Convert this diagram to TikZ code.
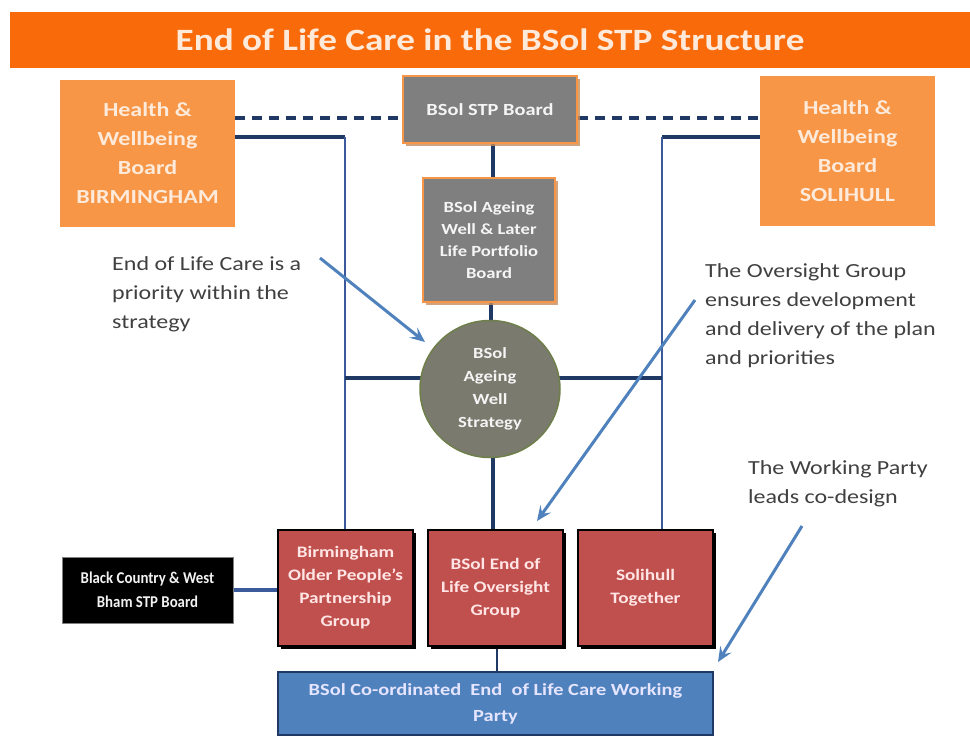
\documentclass[tikz,border=0pt]{standalone}
\usepackage{fontspec}
\setmainfont{Carlito}[FakeStretch=1.2]
\newfontfamily\condfont[FakeStretch=0.9]{Carlito}
\usetikzlibrary{shapes.geometric,arrows.meta,shadows,backgrounds}
\definecolor{titleor}{HTML}{F96A0A}
\definecolor{boxor}{HTML}{F79646}
\definecolor{boxgray}{HTML}{7F7F7F}
\definecolor{circgray}{HTML}{7A7A6E}
\definecolor{circedge}{HTML}{6E7F4A}
\definecolor{boxred}{HTML}{C0504D}
\definecolor{boxblue}{HTML}{4F81BD}
\definecolor{navy}{HTML}{1F3864}
\definecolor{vline}{HTML}{3A5A9C}
\definecolor{arrowblue}{HTML}{4F81BD}
\definecolor{anntext}{HTML}{404040}
\definecolor{cream}{HTML}{FDEADA}
\tikzset{
  base/.style={rectangle, inner sep=0pt, align=center, font=\bfseries},
  hwb/.style={base, fill=boxor, text=cream, font=\bfseries\fontsize{20}{29}\selectfont},
  graybox/.style={base, fill=boxgray, draw=boxor, line width=2pt, text=white!92!gray,
     drop shadow={shadow xshift=3pt, shadow yshift=-3pt, fill=boxor!60!gray, opacity=0.8}},
  redbox/.style={base, fill=boxred, draw=black, line width=1.2pt, text=white!90!red,
     font=\bfseries\fontsize{16}{23}\selectfont,
     drop shadow={shadow xshift=3pt, shadow yshift=-3pt, fill=black, opacity=1}},
  ann/.style={anchor=north west, align=left, text=anntext, font=\fontsize{20}{29}\selectfont, inner sep=0pt},
  conn/.style={draw=navy, line width=3.2pt},
  vconn/.style={draw=vline, line width=2.8pt},
  dash conn/.style={draw=navy, line width=3.5pt, dash pattern=on 10pt off 7pt},
  callout/.style={draw=arrowblue, line width=3pt, -{Stealth[length=15pt,width=13pt,inset=6pt]}},
}
\begin{document}
\begin{tikzpicture}[x=1pt,y=-1pt]
\useasboundingbox (0,0) rectangle (970,742);
% title
\node[base, fill=titleor, minimum width=960pt, minimum height=56pt, text=cream,
  font=\bfseries\fontsize{31}{31}\selectfont] (title) at (490,40) {End of Life Care in the BSol STP Structure};
% top boxes
\node[hwb, minimum width=175pt, minimum height=147pt] (hwbB) at (147.5,153.5) {Health \&\\Wellbeing\\Board\\BIRMINGHAM};
\node[hwb, minimum width=175pt, minimum height=150pt] (hwbS) at (847.5,151) {Health \&\\Wellbeing\\Board\\SOLIHULL};
\node[graybox, minimum width=174pt, minimum height=67pt, font=\bfseries\fontsize{17}{22}\selectfont] (stp) at (490,109.5) {BSol STP Board};
\node[graybox, minimum width=132pt, minimum height=124pt, font=\bfseries\fontsize{15.5}{22}\selectfont] (port) at (489,240) {BSol Ageing\\Well \& Later\\Life Portfolio\\Board};
% circle
\node[ellipse, minimum width=140pt, minimum height=137pt, inner sep=0pt, fill=circgray, draw=circedge, line width=1.5pt,
  align=center, text=white!92!gray, font=\bfseries\fontsize{15.5}{23}\selectfont] (circ) at (490,389) {BSol\\Ageing\\Well\\Strategy};
% red boxes
\node[redbox, minimum width=135pt, minimum height=116pt] (bopp) at (345.5,588) {Birmingham\\Older People's\\Partnership\\Group};
\node[redbox, minimum width=135pt, minimum height=116pt] (eol) at (495.5,588) {BSol End of\\Life Oversight\\Group};
\node[redbox, minimum width=135pt, minimum height=116pt] (sol) at (645.5,588) {Solihull\\Together};
% black box
\node[base, fill=black, draw=gray, line width=0.5pt, minimum width=171pt, minimum height=66pt, text=white!90!gray,
  font=\condfont\bfseries\fontsize{16.5}{24}\selectfont] (bc) at (147.5,590) {Black Country \& West\\Bham STP Board};
% blue box
\node[base, fill=boxblue, draw=navy, line width=1.2pt, minimum width=435pt, minimum height=63pt, text=white!90!blue,
  font=\bfseries\fontsize{17}{26}\selectfont] (wp) at (495.5,703.5) {BSol Co-ordinated\ \ End\ \ of Life Care Working\\Party};
% annotations
\node[ann] (a1) at (112,256) {End of Life Care is a\\priority within the\\strategy};
\node[ann] (a2) at (705,263) {The Oversight Group\\ensures development\\and delivery of the plan\\and priorities};
\node[ann] (a3) at (748,460) {The Working Party\\leads co-design};
% connectors
\coordinate (bj) at (345,137);
\coordinate (sj) at (662,137);
\coordinate (hl) at (345,378);
\coordinate (hr) at (662,378);
\begin{pgfonlayer}{background}
\draw[dash conn] (hwbB.east |- 0,118) -- (stp.west |- 0,118);
\draw[dash conn] (stp.east |- 0,118) -- (hwbS.west |- 0,118);
\draw[conn] (hwbB.east |- bj) -- (bj);
\draw[vconn] (bj) -- (bopp.north -| bj);
\draw[conn] (hwbS.west |- sj) -- (sj);
\draw[vconn] (sj) -- (sol.north -| sj);
\draw[conn] (hl) -- (hr);
\draw[conn] (stp.south -| 493,0) -- (port.north -| 493,0);
\draw[conn] (port.south -| 491,0) -- (circ.north -| 491,0);
\draw[conn] (circ.south -| 493,0) -- (eol.north -| 493,0);
\draw[conn, line width=2pt] (eol.south -| 497,0) -- (wp.north -| 497,0);
\draw[vconn, line width=3.5pt] (bc.east) -- (bopp.west |- 0,590);
\end{pgfonlayer}
% callout arrows
\coordinate (c1s) at (320,258);
\coordinate (c1e) at (425,342);
\coordinate (c2s) at (695,300);
\coordinate (c2e) at (537,521);
\coordinate (c3s) at (802,526);
\coordinate (c3e) at (718,662);
\draw[callout] (c1s) -- (c1e);
\draw[callout] (c2s) -- (c2e);
\draw[callout] (c3s) -- (c3e);
\end{tikzpicture}
\end{document}
